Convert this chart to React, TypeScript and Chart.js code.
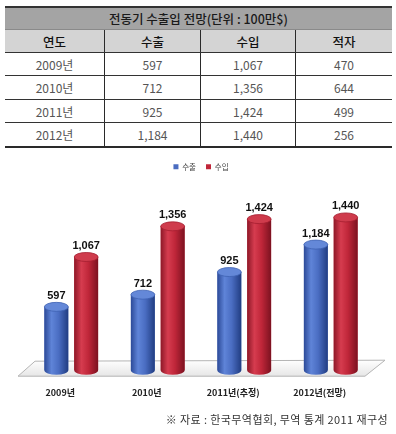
import React, { useEffect, useRef } from "react";
import { Chart, registerables } from "chart.js";
Chart.register(...registerables);

const tableTitle = "전동기 수출입 전망(단위 : 100만$)";
const tableHeaders = ["연도", "수출", "수입", "적자"];
const tableYears = ["2009년", "2010년", "2011년", "2012년"];
const categories = ["2009년", "2010년", "2011년(추정)", "2012년(전망)"];
const seriesNames = ["수출", "수입"];
const exportValues = [597, 712, 925, 1184];
const importValues = [1067, 1356, 1424, 1440];
const deficitValues = [470, 644, 499, 256];
const sourceText = "※ 자료 : 한국무역협회, 무역 통계 2011 재구성";

const fmt = (n: number) => n.toLocaleString("en-US");

const KR = '"Noto Sans CJK KR", "Noto Sans", sans-serif';

const palettes = [
  {
    solid: "#4a6cc0",
    stops: ["#2c4a98", "#5f84d8", "#4a6dc2", "#213d82"],
    top: "#6488d8",
    topEdge: "#3f62b2",
  },
  {
    solid: "#c02639",
    stops: ["#8e1828", "#d63c4f", "#bf2639", "#7c1220"],
    top: "#cf3b4c",
    topEdge: "#a41e30",
  },
];

const cylinderPlugin = {
  id: "cylinders",
  beforeDatasetsDraw(chart: any) {
    const { ctx, chartArea } = chart;
    const b = chartArea.bottom;
    const l = chartArea.left;
    const r = chartArea.right;
    ctx.save();
    ctx.beginPath();
    ctx.moveTo(l + 7, b - 9);
    ctx.lineTo(r + 11, b - 10);
    ctx.lineTo(r - 9, b + 6);
    ctx.lineTo(l - 10, b + 6);
    ctx.closePath();
    const g = ctx.createLinearGradient(0, b - 10, 0, b + 6);
    g.addColorStop(0, "#ffffff");
    g.addColorStop(1, "#e6e6e6");
    ctx.fillStyle = g;
    ctx.fill();
    ctx.strokeStyle = "#b4b4b4";
    ctx.lineWidth = 1;
    ctx.stroke();
    ctx.restore();
  },
  afterDatasetsDraw(chart: any) {
    const { ctx } = chart;
    ctx.save();
    chart.data.datasets.forEach((ds: any, di: number) => {
      const meta = chart.getDatasetMeta(di);
      if (meta.hidden) return;
      const p = palettes[di];
      meta.data.forEach((el: any, i: number) => {
        const { x, y, base, width } = el.getProps(["x", "y", "base", "width"], true);
        const left = x - width / 2;
        const rx = width / 2;
        const ry = 4.5;
        const g = ctx.createLinearGradient(left, 0, left + width, 0);
        g.addColorStop(0, p.stops[0]);
        g.addColorStop(0.3, p.stops[1]);
        g.addColorStop(0.6, p.stops[2]);
        g.addColorStop(1, p.stops[3]);
        ctx.beginPath();
        ctx.moveTo(left, y);
        ctx.lineTo(left, base);
        ctx.ellipse(x, base, rx, ry, 0, Math.PI, 0, true);
        ctx.lineTo(left + width, y);
        ctx.closePath();
        ctx.fillStyle = g;
        ctx.fill();
        ctx.beginPath();
        ctx.ellipse(x, y, rx, ry, 0, 0, Math.PI * 2);
        ctx.fillStyle = p.top;
        ctx.fill();
        ctx.strokeStyle = p.topEdge;
        ctx.lineWidth = 0.8;
        ctx.stroke();
        ctx.font = 'bold 11px "Liberation Sans", Arial, sans-serif';
        ctx.textAlign = "center";
        ctx.textBaseline = "bottom";
        ctx.fillStyle = "#111111";
        ctx.fillText(fmt(ds.data[i]), x, y - ry - 1);
      });
    });
    ctx.restore();
  },
};

function BarChart() {
  const ref = useRef<HTMLCanvasElement>(null);
  useEffect(() => {
    if (!ref.current) return;
    const chart = new Chart(ref.current, {
      type: "bar",
      data: {
        labels: categories,
        datasets: [
          {
            label: seriesNames[0],
            data: exportValues,
            backgroundColor: palettes[0].solid,
            borderWidth: 0,
          },
          {
            label: seriesNames[1],
            data: importValues,
            backgroundColor: palettes[1].solid,
            borderWidth: 0,
          },
        ],
      },
      options: {
        animation: false,
        responsive: false,
        maintainAspectRatio: false,
        datasets: {
          bar: { categoryPercentage: 0.69, barPercentage: 0.8 },
        },
        layout: { padding: { left: 28, right: 22, top: 0, bottom: 0 } },
        plugins: {
          tooltip: { enabled: false },
          legend: {
            display: true,
            position: "top",
            labels: {
              boxWidth: 5,
              boxHeight: 5,
              padding: 10,
              color: "#444444",
              font: { family: KR, size: 7.5 },
            },
          },
        },
        scales: {
          y: {
            display: false,
            min: 0,
            max: 1788,
          },
          x: {
            grid: { display: false, drawTicks: false },
            border: { display: false },
            ticks: {
              color: "#222222",
              padding: 17,
              labelOffset: -11,
              maxRotation: 0,
              autoSkip: false,
              font: { family: KR, size: 9, weight: "bold" },
            },
          },
        },
      },
      plugins: [cylinderPlugin],
    });
    return () => chart.destroy();
  }, []);
  return (
    <canvas
      ref={ref}
      width={396}
      height={262}
      style={{ position: "absolute", left: 0, top: 153, width: 396, height: 262 }}
    />
  );
}

export default function App() {
  const colW = [99, 96, 95, 97];
  const cell = (w: number, i: number, extra: any = {}) => ({
    width: w,
    boxSizing: "border-box" as const,
    borderLeft: i === 0 ? "none" : "1px solid #2a2a2a",
    display: "flex",
    alignItems: "center",
    justifyContent: "center",
    ...extra,
  });
  const dataRows = tableYears.map((yr, i) => [
    yr,
    fmt(exportValues[i]),
    fmt(importValues[i]),
    fmt(deficitValues[i]),
  ]);
  const rowHeights = [22, 23, 22, 23];
  return (
    <div
      style={{
        position: "absolute",
        left: 0,
        top: 0,
        width: 396,
        height: 434,
        background: "#ffffff",
        fontFamily: KR,
        overflow: "hidden",
      }}
    >
      <div style={{ position: "absolute", left: 5, top: 6, width: 387 }}>
        <div
          style={{
            height: 23,
            background: "#a4a4a4",
            borderTop: "2px solid #333333",
            boxSizing: "border-box",
            display: "flex",
            alignItems: "center",
            justifyContent: "center",
            fontSize: 12.5,
            fontWeight: 500,
            color: "#1a1a1a",
            letterSpacing: 0,
          }}
        >
          {tableTitle}
        </div>
        <div
          style={{
            height: 23,
            background: "#d4d4d4",
            borderTop: "1px solid #8a8a8a",
            boxSizing: "border-box",
            display: "flex",
            fontSize: 12.5,
            fontWeight: 500,
            color: "#111111",
          }}
        >
          {tableHeaders.map((h, i) => (
            <div key={h} style={cell(colW[i], i)}>
              {h}
            </div>
          ))}
        </div>
        {dataRows.map((row, r) => (
          <div
            key={r}
            style={{
              height: rowHeights[r],
              borderTop: "1px solid #333333",
              borderBottom: r === dataRows.length - 1 ? "2px solid #2a2a2a" : "none",
              boxSizing: "content-box",
              display: "flex",
              fontSize: 12,
              color: "#555555",
            }}
          >
            {row.map((v, i) => (
              <div key={i} style={cell(colW[i], i)}>
                {v}
              </div>
            ))}
          </div>
        ))}
      </div>
      <BarChart />
      <div
        style={{
          position: "absolute",
          right: 8,
          top: 411,
          fontSize: 11,
          color: "#333333",
          whiteSpace: "nowrap",
          letterSpacing: 0.4,
        }}
      >
        {sourceText}
      </div>
    </div>
  );
}
